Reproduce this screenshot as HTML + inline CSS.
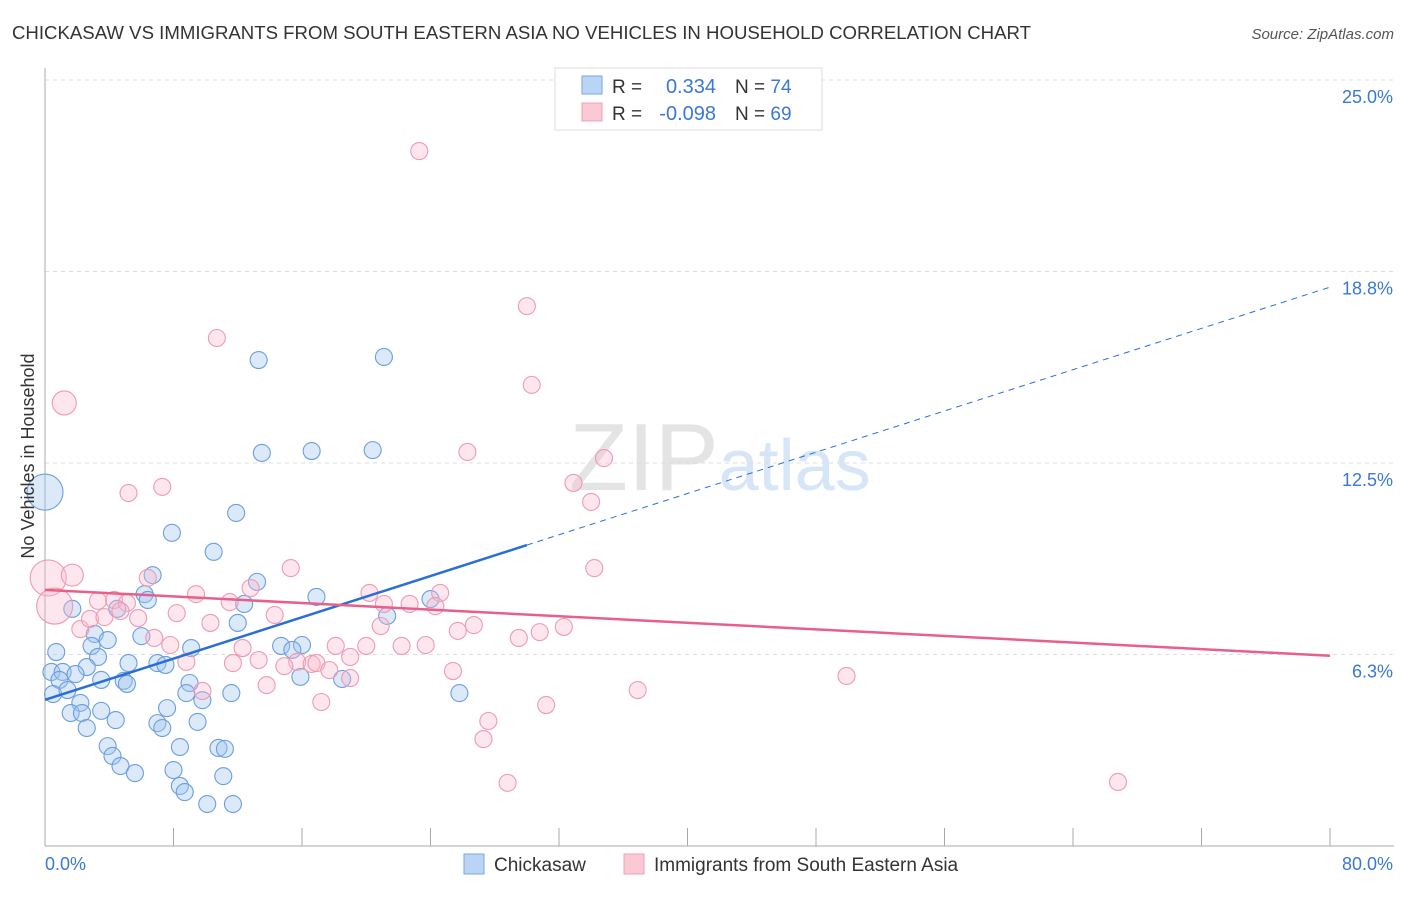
<!DOCTYPE html>
<html><head><meta charset="utf-8"><style>
body{margin:0;background:#fff;font-family:"Liberation Sans",sans-serif}
svg text{font-family:"Liberation Sans",sans-serif}
</style></head><body>
<svg id="chart" width="1406" height="892" xmlns="http://www.w3.org/2000/svg">
<text x="12" y="39" font-size="18" fill="#333" textLength="1019" lengthAdjust="spacingAndGlyphs">CHICKASAW VS IMMIGRANTS FROM SOUTH EASTERN ASIA NO VEHICLES IN HOUSEHOLD CORRELATION CHART</text>
<text x="1394" y="39" font-size="15" fill="#555" text-anchor="end" font-style="italic">Source: ZipAtlas.com</text>
<text x="720" y="490" font-size="96" fill="#e4e4e4" text-anchor="middle" font-family="Liberation Serif"><tspan>ZIP</tspan><tspan fill="#d6e6f7" font-family="Liberation Sans" font-size="72">atlas</tspan></text>
<g id="grid"></g><g id="axes"></g><g id="pts"></g><g id="lines"></g>
<text transform="translate(34,456) rotate(-90)" font-size="18" fill="#333" text-anchor="middle">No Vehicles in Household</text>
<g>
<rect x="555" y="68" width="267" height="62" fill="#fff" stroke="#ddd"/>
<rect x="582" y="76" width="20" height="18" fill="#b9d4f5" stroke="#7aa7e0"/>
<rect x="582" y="103" width="20" height="18" fill="#fbc9d6" stroke="#eea0b6"/>
<text x="612" y="93" font-size="19" fill="#333">R =</text>
<text x="716" y="93" font-size="20" fill="#3a78d4" text-anchor="end">0.334</text>
<text x="735" y="93" font-size="19" fill="#333">N = <tspan fill="#3a78d4">74</tspan></text>
<text x="612" y="120" font-size="19" fill="#333">R =</text>
<text x="716" y="120" font-size="20" fill="#3a78d4" text-anchor="end">-0.098</text>
<text x="735" y="120" font-size="19" fill="#333">N = <tspan fill="#3a78d4">69</tspan></text>
</g>
<g>
<rect x="464" y="854" width="20" height="20" fill="#b9d4f5" stroke="#7aa7e0"/>
<text x="494" y="871" font-size="19" fill="#333">Chickasaw</text>
<rect x="624" y="854" width="20" height="20" fill="#fbc9d6" stroke="#eea0b6"/>
<text x="654" y="871" font-size="19" fill="#333">Immigrants from South Eastern Asia</text>
</g>
</svg>
<script>
const yTicks=[6.25,12.5,18.75,25];
const yTickLabels=["6.3%","12.5%","18.8%","25.0%"];
const xTicks=[0,8,16,24,32,40,48,56,64,72,80];
const blueX=[0,13.3,21.1,13.5,16.6,20.4,11.9,7.9,10.5,6.7,13.2,6.2,6.4,4.5,1.7,12.4,16.9,24.0,21.3,12.0,6.0,3.1,3.9,2.9,0.7,9.1,14.7,16.0,15.4,3.3,5.2,7.0,7.5,0.4,1.1,2.6,1.9,0.9,3.5,4.9,5.1,9.0,15.9,18.5,0.5,1.4,8.8,11.6,25.8,9.8,2.2,7.6,1.6,2.3,3.5,4.4,7.0,7.3,9.5,2.6,3.9,8.4,10.8,11.2,4.2,4.7,5.6,8.0,11.1,8.4,8.7,10.1,11.7];
const blueY=[11.55,15.86,15.96,12.83,12.89,12.92,10.87,10.22,9.60,8.84,8.62,8.22,8.03,7.74,7.74,7.90,8.13,8.06,7.51,7.28,6.85,6.92,6.72,6.53,6.33,6.46,6.53,6.56,6.40,6.17,5.97,5.97,5.91,5.68,5.68,5.84,5.61,5.42,5.42,5.39,5.29,5.32,5.52,5.45,4.96,5.09,4.99,4.99,4.99,4.76,4.67,4.50,4.34,4.34,4.41,4.11,4.01,3.85,4.05,3.85,3.26,3.23,3.20,3.17,2.94,2.61,2.38,2.48,2.28,1.96,1.76,1.37,1.37];
const blueR=[18];
const pinkX=[23.3,30.0,30.3,10.7,1.2,5.2,7.3,26.3,34.8,32.9,34.0,0.2,0.6,1.7,6.4,15.3,12.8,9.4,4.3,5.1,3.3,4.7,8.2,11.5,14.3,20.2,24.6,21.1,22.7,24.3,34.2,2.2,2.8,3.7,5.8,6.8,7.8,10.3,20.9,26.7,25.7,29.5,30.8,32.3,12.3,13.3,15.7,16.6,16.9,18.1,19.0,17.7,20.0,22.2,23.7,8.8,11.7,25.4,14.9,19.0,13.8,9.8,36.9,49.9,17.2,31.2,27.6,27.3,28.8,66.8];
const pinkY=[22.68,17.62,15.05,16.58,14.46,11.52,11.72,12.86,12.66,11.85,11.23,8.75,7.83,8.84,8.75,9.07,8.42,8.22,8.03,7.93,8.00,7.67,7.60,7.96,7.54,8.26,8.26,7.90,7.90,7.83,9.07,7.08,7.41,7.47,7.44,6.79,6.56,7.28,7.18,7.21,7.02,6.79,6.98,7.15,6.46,6.07,6.01,5.94,5.97,6.53,6.17,5.74,6.53,6.53,6.56,6.01,5.97,5.71,5.87,5.48,5.25,5.06,5.09,5.55,4.70,4.60,4.08,3.49,2.06,2.09];
const pinkR={4:12,11:18,12:18,13:11};
const blueTrend=[4.77,18.24], blueSolidEnd=30.0;
const pinkTrend=[8.36,6.21];
const NS="http://www.w3.org/2000/svg";
const X=v=>45+v*(1285/80), Y=v=>846-v*(766/25);
function mk(t,a,p){const e=document.createElementNS(NS,t);for(const k in a)e.setAttribute(k,a[k]);document.getElementById(p).appendChild(e);return e;}
yTicks.forEach((t,i)=>{
 const g=mk('line',{x1:45,x2:1394,y1:Y(t),y2:Y(t),stroke:'#ddd','stroke-dasharray':'4,4'},'grid');
 
 
 const l=mk('text',{x:1393,y:Y(t)+23,'font-size':18,fill:'#3a78d4','text-anchor':'end'},'axes');
 l.textContent=yTickLabels[i];
 
 
});
const ax=mk('line',{x1:45,x2:45,y1:68,y2:846,stroke:'#aaa'},'axes');


const bx=mk('line',{x1:45,x2:1394,y1:846,y2:846,stroke:'#aaa'},'axes');


xTicks.forEach(t=>{const k=mk('line',{x1:X(t),x2:X(t),y1:828,y2:846,stroke:'#aaa'},'axes');
 
 });
const x0=mk('text',{x:45,y:870,'font-size':18,fill:'#3a78d4'},'axes');x0.textContent='0.0%';


const x1=mk('text',{x:1393,y:870,'font-size':18,fill:'#3a78d4','text-anchor':'end'},'axes');x1.textContent='80.0%';


blueX.forEach((v,i)=>{const c=mk('circle',{cx:X(v),cy:Y(blueY[i]),r:blueR[i]||8.5,fill:'rgba(160,196,240,0.38)',stroke:'#6b9edf','stroke-width':1.1},'pts');
 
 });
pinkX.forEach((v,i)=>{const c=mk('circle',{cx:X(v),cy:Y(pinkY[i]),r:pinkR[i]||8.5,fill:'rgba(248,184,204,0.35)',stroke:'#ee9ab3','stroke-width':1.1},'pts');
 
 });
const by=v=>blueTrend[0]+(blueTrend[1]-blueTrend[0])*v/80;
const b1=mk('line',{x1:X(0),y1:Y(by(0)),x2:X(blueSolidEnd),y2:Y(by(blueSolidEnd)),stroke:'#2a6fd6','stroke-width':2.5},'lines');


const b2=mk('line',{x1:X(blueSolidEnd),y1:Y(by(blueSolidEnd)),x2:X(80),y2:Y(by(80)),stroke:'#2a6fd6','stroke-width':1,'stroke-dasharray':'6,5'},'lines');


const p1=mk('line',{x1:X(0),y1:Y(pinkTrend[0]),x2:X(80),y2:Y(pinkTrend[1]),stroke:'#e8608a','stroke-width':2.5},'lines');


</script>
</body></html>
